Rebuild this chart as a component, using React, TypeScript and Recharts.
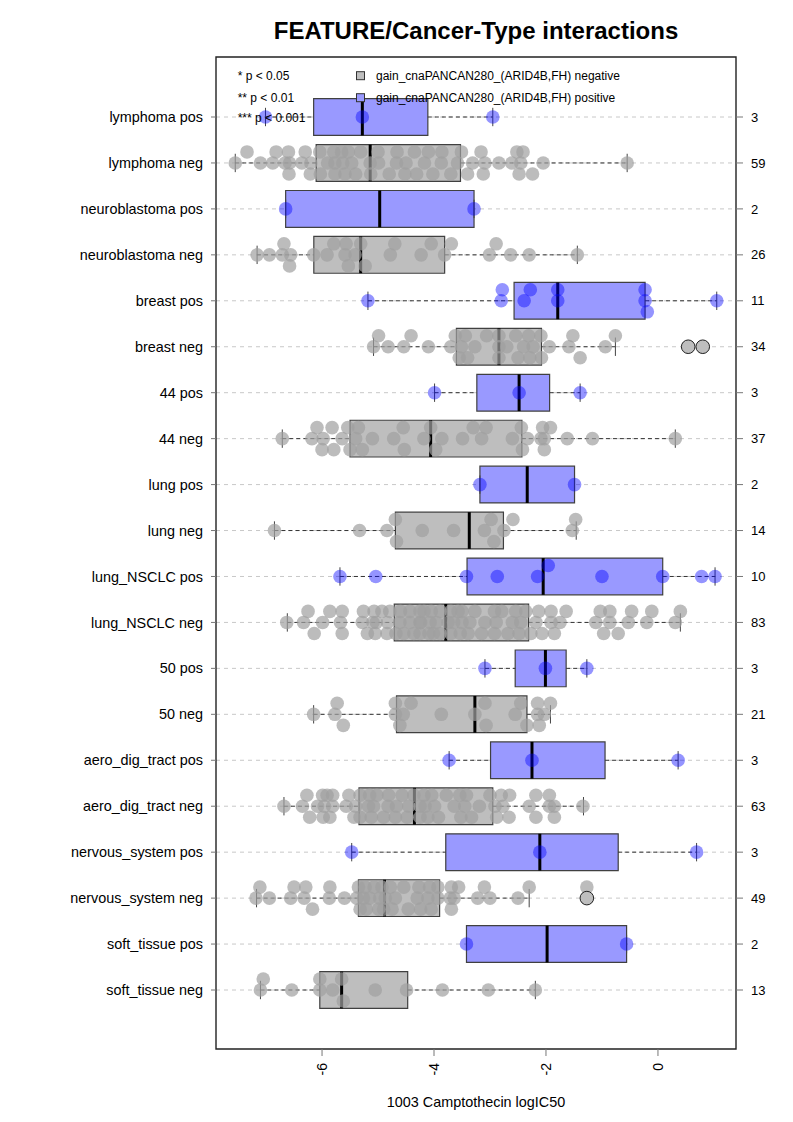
import React from 'react';
import {
  ComposedChart,
  Scatter,
  XAxis,
  YAxis,
  CartesianGrid,
  ReferenceArea,
  ReferenceLine,
} from 'recharts';

// rows from top to bottom
const rowLabels = [
  'lymphoma pos', 'lymphoma neg', 'neuroblastoma pos', 'neuroblastoma neg',
  'breast pos', 'breast neg', '44 pos', '44 neg', 'lung pos', 'lung neg',
  'lung_NSCLC pos', 'lung_NSCLC neg', '50 pos', '50 neg',
  'aero_dig_tract pos', 'aero_dig_tract neg', 'nervous_system pos', 'nervous_system neg',
  'soft_tissue pos', 'soft_tissue neg',
];
const rowCounts = [3, 59, 2, 26, 11, 34, 3, 37, 2, 14, 10, 83, 3, 21, 3, 63, 3, 49, 2, 13];

// box statistics (logIC50)
const boxMin = [-7.01, -7.55, -6.65, -7.16, -5.18, -5.08, -3.99, -6.71, -3.18, -6.85, -5.68, -6.62, -3.09, -6.15, -3.73, -6.68, -5.47, -7.17, -3.42, -7.1];
const boxQ1 = [-6.15, -6.105, -6.65, -6.147, -2.57, -3.6, -3.235, -5.5, -3.18, -4.69, -3.41, -4.71, -2.55, -4.67, -2.99, -5.34, -3.79, -5.35, -3.42, -6.04];
const boxMedian = [-5.28, -5.14, -4.97, -5.31, -1.79, -2.84, -2.48, -4.06, -2.335, -3.37, -2.05, -3.79, -2.01, -3.27, -2.25, -4.35, -2.11, -4.885, -1.98, -5.65];
const boxQ3 = [-4.11, -3.527, -3.285, -3.81, -0.23, -2.08, -1.935, -2.43, -1.49, -2.76, 0.085, -2.31, -1.64, -2.34, -0.945, -2.95, -0.71, -3.9, -0.56, -4.47];
const boxMax = [-2.95, -0.55, -3.285, -1.44, 1.05, -0.76, -1.39, 0.31, -1.49, -1.46, 1.02, 0.4, -1.27, -1.92, 0.36, -1.33, 0.69, -2.3, -0.56, -2.19];
const breastNegOutliers = [0.54, 0.8];
const nervousNegOutliers = [-1.27];

// individual cell lines
const lymphomaPos = [-7.01, -5.28, -2.95];
const lymphomaNeg = [-7.55, -7.34, -7.1, -6.88, -6.82, -6.66, -6.6, -6.59, -6.58, -6.36, -6.3, -6.21, -6.2, -6.04, -6.03, -5.9, -5.79, -5.77, -5.77, -5.65, -5.63, -5.59, -5.53, -5.47, -5.4, -5.31, -5.14, -5.13, -5.0, -4.99, -4.8, -4.67, -4.66, -4.52, -4.5, -4.35, -4.31, -4.17, -4.1, -4.02, -3.87, -3.86, -3.7, -3.58, -3.51, -3.4, -3.31, -3.16, -3.12, -3.09, -2.84, -2.61, -2.52, -2.48, -2.45, -2.41, -2.24, -2.05, -0.55];
const neuroPos = [-6.65, -3.285];
const neuroNeg = [-7.16, -6.94, -6.71, -6.68, -6.58, -6.56, -6.15, -5.91, -5.79, -5.59, -5.57, -5.53, -5.41, -5.31, -5.23, -4.78, -4.7, -4.23, -4.05, -3.81, -3.69, -3.01, -2.89, -2.63, -2.3, -1.44];
const breastPos = [-5.18, -2.8, -2.78, -2.39, -2.28, -1.79, -1.79, -0.23, -0.23, -0.19, 1.05];
const breastNeg = [-5.08, -4.99, -4.82, -4.54, -4.41, -4.1, -3.7, -3.62, -3.55, -3.51, -3.44, -3.4, -3.27, -3.06, -2.84, -2.84, -2.84, -2.7, -2.54, -2.5, -2.4, -2.31, -2.29, -2.23, -2.09, -2.08, -1.94, -1.59, -1.52, -1.39, -0.94, -0.76, 0.54, 0.8];
const pos44 = [-3.99, -2.48, -1.39];
const neg44 = [-6.71, -6.18, -6.09, -6.0, -5.98, -5.82, -5.79, -5.64, -5.54, -5.5, -5.4, -5.35, -5.28, -5.1, -4.72, -4.55, -4.53, -4.18, -4.06, -3.97, -3.86, -3.49, -3.3, -3.15, -3.07, -2.6, -2.44, -2.42, -2.33, -2.09, -2.06, -2.03, -2.03, -1.92, -1.62, -1.17, 0.31];
const lungPos = [-3.18, -1.49];
const lungNeg = [-6.85, -5.33, -4.84, -4.69, -4.67, -4.21, -3.65, -3.1, -2.98, -2.93, -2.75, -2.59, -1.53, -1.47];
const nsclcPos = [-5.68, -5.04, -3.42, -2.87, -2.15, -1.96, -1.0, 0.085, 0.78, 1.02];
const nsclcNeg = [-6.25, -5.64, -5.26, -5.05, -5.03, -4.83, -4.61, -4.43, -4.24, -4.05, -4.01, -3.75, -3.53, -3.5, -3.36, -2.92, -2.36, -2.07, -1.91, -1.75, -1.03, -0.86, -0.47, -0.11, 0.4,
  -6.63, -6.33, -5.99, -5.67, -5.28, -5.09, -4.68, -4.43, -4.25, -4.07, -3.89, -3.7, -3.39, -3.15, -2.92, -2.68, -2.27, -1.91, -1.64, -1.11, -0.86, -0.53, -0.2, 0.31,
  -6.14, -5.86, -5.64, -5.19, -4.93, -4.79, -4.6, -4.25, -4.09, -3.89, -3.65, -3.5, -2.89, -2.48, -2.18, -1.85, -0.97, -0.71,
  -5.07, -4.84, -4.25, -2.54, -2.13, -4.54, -4.36, -4.18, -3.96, -3.7, -3.57, -3.27, -3.09, -2.79, -2.6, -2.45];
const pos50 = [-3.09, -2.01, -1.27];
const neg50 = [-6.15, -5.77, -5.73, -5.62, -4.69, -4.69, -4.61, -4.55, -4.41, -3.87, -3.27, -3.09, -3.07, -2.55, -2.45, -2.34, -2.15, -2.15, -2.12, -2.03, -1.92];
const aeroPos = [-3.73, -2.25, 0.36];
const aeroNeg = [-6.27, -5.99, -5.91, -5.81, -5.52, -5.4, -5.08, -4.81, -4.67, -4.48, -4.04, -3.78, -3.54, -3.42, -2.91, -2.8, -2.66, -2.18, -1.94, -1.85,
  -6.68, -6.35, -6.08, -5.86, -5.57, -5.32, -4.82, -4.57, -4.36, -4.25, -3.92, -3.64, -3.19, -3.0, -2.77, -2.3, -1.94, -1.34,
  -6.22, -5.98, -5.96, -5.81, -5.43, -5.32, -5.15, -5.02, -4.69, -4.45, -4.25, -4.11, -3.52, -3.45, -2.88, -2.65, -2.18, -1.85,
  -5.12, -4.18, -4.16, -5.17, -4.9, -3.99, -3.33];
const nervousPos = [-5.47, -2.11, 0.69];
const nervousNeg = [-7.11, -6.5, -6.29, -5.86, -5.35, -5.23, -4.9, -4.69, -4.05, -3.69, -3.64, -3.1, -1.27,
  -7.18, -6.94, -6.56, -6.32, -5.87, -5.6, -5.38, -5.15, -4.97, -4.75, -4.46, -4.27, -4.08, -3.71, -3.22, -3.0, -2.5, -2.3, -1.27,
  -6.17, -5.32, -5.21, -5.07, -4.93, -4.87, -4.11, -3.93, -3.69, -3.56,
  -3.93, -4.99, -4.3, -5.26, -4.78, -4.54, -4.24];
const softPos = [-3.42, -0.56];
const softNeg = [-7.1, -7.05, -6.54, -6.04, -6.04, -5.81, -5.65, -5.62, -5.05, -4.49, -3.85, -3.03, -2.19];

const rowPoints = [
  lymphomaPos, lymphomaNeg, neuroPos, neuroNeg, breastPos, breastNeg, pos44, neg44,
  lungPos, lungNeg, nsclcPos, nsclcNeg, pos50, neg50, aeroPos, aeroNeg,
  nervousPos, nervousNeg, softPos, softNeg,
];
const rowOutliers: number[][] = rowLabels.map(() => []);
rowOutliers[5] = breastNegOutliers;
rowOutliers[17] = nervousNegOutliers;

const xTicks = [-6, -4, -2, 0];

// chart geometry
const W = 785;
const H = 1110;
const X_DOMAIN: [number, number] = [-7.894, 1.394];
const Y_DOMAIN: [number, number] = [-0.284, 21.306];
const PLOT_W = 520;
const PLOT_H = 992;
const FONT = '"Liberation Sans", Arial, Helvetica, sans-serif';
const NROW = rowLabels.length;
const posOf = (i: number) => NROW - i;

// simple beeswarm: put each point on the middle, upper or lower lane
function swarm(values: number[], pos: number) {
  const sx = PLOT_W / (X_DOMAIN[1] - X_DOMAIN[0]);
  const sy = PLOT_H / (Y_DOMAIN[1] - Y_DOMAIN[0]);
  const lanes = [0, 0.24, -0.24];
  const placed: { x: number; y: number }[] = [];
  [...values].sort((a, b) => a - b).forEach(v => {
    let best = 0;
    let bestD = -1;
    for (const off of lanes) {
      let minD = Infinity;
      placed.forEach(p => {
        minD = Math.min(minD, Math.hypot((p.x - v) * sx, (p.y - pos - off) * sy));
      });
      if (minD >= 12) { best = off; break; }
      if (minD > bestD) { bestD = minD; best = off; }
    }
    placed.push({ x: v, y: pos + best });
  });
  return placed;
}

const isPos = (i: number) => rowLabels[i].endsWith('pos');

const grayPoints = rowPoints.flatMap((vals, i) => (isPos(i) ? [] : swarm(vals, posOf(i))));
const bluePoints = rowPoints.flatMap((vals, i) => (isPos(i) ? swarm(vals, posOf(i)) : []));
const outlierPoints = rowOutliers.flatMap((vals, i) => vals.map(v => ({ x: v, y: posOf(i) })));

const yTicks = rowLabels.map((_, i) => posOf(i));

const GrayDot = (p: any) => <circle cx={p.cx} cy={p.cy} r={6.8} fill="#a0a0a0" fillOpacity={0.7} />;
const BlueDot = (p: any) => <circle cx={p.cx} cy={p.cy} r={6.8} fill="#0000ff" fillOpacity={0.42} />;
const OutDot = (p: any) => <circle cx={p.cx} cy={p.cy} r={6.8} fill="#bebebe" stroke="#222" strokeWidth={1} />;

const XTick = (props: any) => {
  const { x, y, payload } = props;
  return (
    <text
      x={x}
      y={y}
      transform={`rotate(-90 ${x} ${y})`}
      textAnchor="end"
      dominantBaseline="central"
      fontSize={14}
      fontFamily={FONT}
      fill="#000"
    >
      {payload.value}
    </text>
  );
};

export default function App() {
  return (
    <div style={{ position: 'relative', width: W, height: H }}>
      <ComposedChart width={W} height={H} margin={{ top: 49, right: 0, bottom: 0, left: 0 }}>
        <CartesianGrid yAxisId="left" vertical={false} syncWithTicks stroke="#c8c8c8" strokeDasharray="4 4" />
        <XAxis
          type="number"
          dataKey="x"
          domain={X_DOMAIN}
          allowDataOverflow
          ticks={xTicks}
          interval={0}
          height={69}
          tickSize={7}
          tickMargin={7}
          axisLine={false}
          tickLine={{ stroke: '#777' }}
          tick={<XTick />}
          label={{ value: '1003 Camptothecin logIC50', position: 'insideBottom', offset: 11.5, fill: '#000', fontSize: 14.4, fontFamily: FONT }}
        />
        <YAxis
          yAxisId="left"
          type="number"
          dataKey="y"
          domain={Y_DOMAIN}
          allowDataOverflow
          ticks={yTicks}
          interval={0}
          width={208}
          tickSize={5}
          tickMargin={8}
          axisLine={false}
          tickLine={{ stroke: '#777' }}
          tick={{ fill: '#000', fontSize: 14.4, fontFamily: FONT }}
          tickFormatter={(v: number) => rowLabels[NROW - v]}
        />
        <YAxis
          yAxisId="right"
          orientation="right"
          type="number"
          dataKey="y"
          domain={Y_DOMAIN}
          allowDataOverflow
          ticks={yTicks}
          interval={0}
          width={57}
          tickSize={7}
          tickMargin={8}
          axisLine={false}
          tickLine={{ stroke: '#777' }}
          tick={{ fill: '#000', fontSize: 13, fontFamily: FONT }}
          tickFormatter={(v: number) => String(rowCounts[NROW - v])}
        />

        {rowLabels.map((_, i) => {
          const p = posOf(i);
          return (
            <React.Fragment key={`w${i}`}>
              <ReferenceLine yAxisId="left" segment={[{ x: boxMin[i], y: p }, { x: boxQ1[i], y: p }]} stroke="#333" strokeDasharray="4 3" />
              <ReferenceLine yAxisId="left" segment={[{ x: boxQ3[i], y: p }, { x: boxMax[i], y: p }]} stroke="#333" strokeDasharray="4 3" />
              <ReferenceLine yAxisId="left" segment={[{ x: boxMin[i], y: p - 0.2 }, { x: boxMin[i], y: p + 0.2 }]} stroke="#444" />
              <ReferenceLine yAxisId="left" segment={[{ x: boxMax[i], y: p - 0.2 }, { x: boxMax[i], y: p + 0.2 }]} stroke="#444" />
            </React.Fragment>
          );
        })}
        {rowLabels.map((_, i) => (
          <ReferenceArea
            key={`b${i}`}
            yAxisId="left"
            x1={boxQ1[i]}
            x2={boxQ3[i]}
            y1={posOf(i) - 0.4}
            y2={posOf(i) + 0.4}
            fill={isPos(i) ? '#9999ff' : '#bebebe'}
            fillOpacity={1}
            stroke="#404040"
            strokeWidth={1.2}
          />
        ))}
        {rowLabels.map((_, i) => (
          <ReferenceLine
            key={`m${i}`}
            yAxisId="left"
            segment={[{ x: boxMedian[i], y: posOf(i) - 0.4 }, { x: boxMedian[i], y: posOf(i) + 0.4 }]}
            stroke="#000"
            strokeWidth={3}
          />
        ))}

        <Scatter yAxisId="left" data={grayPoints} shape={GrayDot} isAnimationActive={false} />
        <Scatter yAxisId="left" data={bluePoints} shape={BlueDot} isAnimationActive={false} />
        <Scatter yAxisId="left" data={outlierPoints} shape={OutDot} isAnimationActive={false} />

        <ReferenceArea
          yAxisId="left"
          x1={X_DOMAIN[0]}
          x2={X_DOMAIN[1]}
          y1={Y_DOMAIN[0]}
          y2={Y_DOMAIN[1]}
          ifOverflow="visible"
          fill="none"
          fillOpacity={0}
          stroke="#222"
          strokeWidth={1.4}
        />
      </ComposedChart>

      <svg
        width={W}
        height={H}
        style={{ position: 'absolute', left: 0, top: 0, pointerEvents: 'none' }}
        fontFamily={FONT}
      >
        <text x={468} y={30.5} textAnchor="middle" fontSize={24} fontWeight="bold" fill="#000">
          FEATURE/Cancer-Type interactions
        </text>
        <text x={229.7} y={72} fontSize={12} fill="#000">* p &lt; 0.05</text>
        <text x={229.7} y={94} fontSize={12} fill="#000">** p &lt; 0.01</text>
        <text x={229.7} y={114} fontSize={12} fill="#000">*** p &lt; 0.001</text>
        <rect x={348.5} y={63.7} width={8} height={8} fill="#bebebe" stroke="#333" />
        <rect x={348.5} y={85.7} width={8} height={8} fill="#9999ff" stroke="#333" />
        <text x={368} y={72} fontSize={12} fill="#000">gain_cnaPANCAN280_(ARID4B,FH) negative</text>
        <text x={368} y={94} fontSize={12} fill="#000">gain_cnaPANCAN280_(ARID4B,FH) positive</text>
      </svg>
    </div>
  );
}
